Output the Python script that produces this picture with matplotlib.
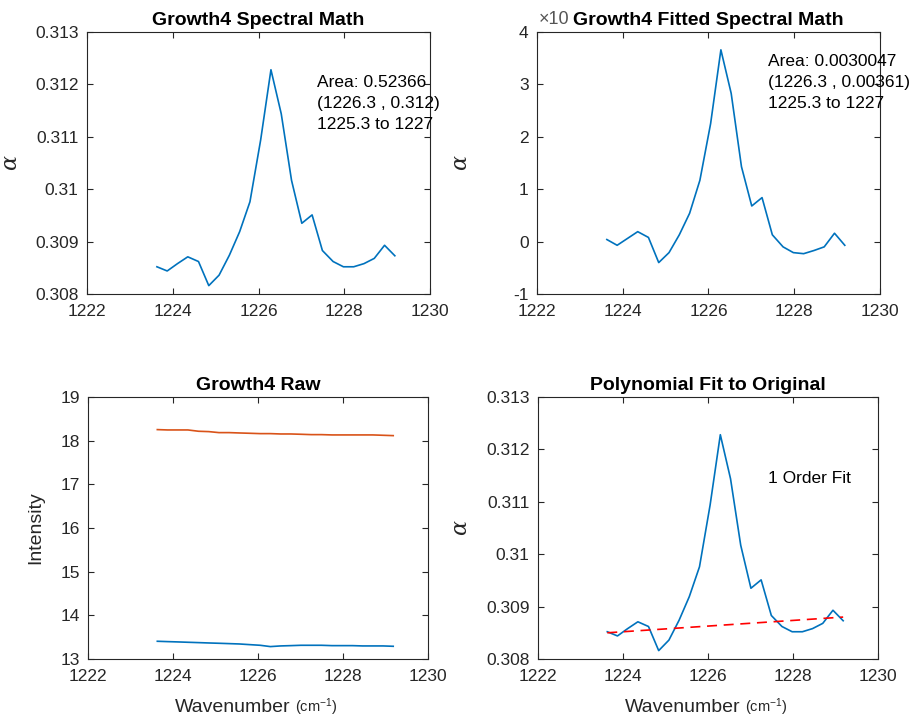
import numpy as np
import matplotlib
matplotlib.use('Agg')
from matplotlib import pyplot as plt

plt.rcParams['font.family'] = ['Liberation Sans', 'DejaVu Sans']
plt.rcParams['mathtext.fontset'] = 'dejavuserif'
plt.rcParams['axes.unicode_minus'] = False

# wavenumber grid (cm^-1)
wn = [1223.63, 1223.87, 1224.11, 1224.35, 1224.60, 1224.84, 1225.08, 1225.32,
      1225.56, 1225.80, 1226.05, 1226.29, 1226.53, 1226.77, 1227.01, 1227.25,
      1227.49, 1227.74, 1227.98, 1228.22, 1228.46, 1228.70, 1228.94, 1229.18]

# absorbance (spectral math)
alpha = [0.30852, 0.30844, 0.30858, 0.30871, 0.30862, 0.30816, 0.30836, 0.30874,
         0.30919, 0.30976, 0.31094, 0.31228, 0.31144, 0.31017, 0.30935, 0.30951,
         0.30883, 0.30862, 0.30852, 0.30852, 0.30858, 0.30868, 0.30893, 0.30873]

# baseline-subtracted (x 1e-3)
fitted = [0.04, -0.07, 0.06, 0.19, 0.08, -0.40, -0.21, 0.13,
          0.54, 1.17, 2.25, 3.66, 2.83, 1.43, 0.68, 0.84,
          0.13, -0.10, -0.21, -0.23, -0.17, -0.10, 0.16, -0.07]

# raw intensities
raw_sample = [13.406, 13.398, 13.391, 13.383, 13.375, 13.367, 13.360, 13.352,
              13.344, 13.329, 13.314, 13.284, 13.299, 13.306, 13.314, 13.314,
              13.314, 13.306, 13.306, 13.306, 13.299, 13.299, 13.299, 13.291]
raw_ref = [18.253, 18.245, 18.245, 18.245, 18.215, 18.207, 18.184, 18.184,
           18.176, 18.169, 18.161, 18.161, 18.153, 18.153, 18.146, 18.138,
           18.138, 18.131, 18.131, 18.131, 18.131, 18.131, 18.123, 18.115]

# 1st order fit line endpoints
fit_x = [1223.63, 1229.18]
fit_y = [0.30850, 0.30880]

blue = '#0072BD'
orange = '#D95319'
axcol = '#262626'

fig = plt.figure(figsize=(9.19, 7.21), dpi=100)
w, h = 0.3732, 0.3634
ax1 = fig.add_axes([0.0947, 0.5922, w, h])
ax2 = fig.add_axes([0.5843, 0.5922, w, h])
ax3 = fig.add_axes([0.0958, 0.0860, 0.37, h])
ax4 = fig.add_axes([0.5854, 0.0860, 0.37, h])

def style(ax):
    ax.set_xlim(1222, 1230)
    ax.set_xticks([1222, 1224, 1226, 1228, 1230])
    ax.tick_params(direction='in', top=True, right=True, length=4, width=0.8,
                   labelsize=12.5, colors=axcol, labelcolor=axcol)
    ax.tick_params(axis='x', pad=7)
    ax.tick_params(axis='y', pad=6)
    for s in ax.spines.values():
        s.set_color(axcol)
        s.set_linewidth(0.8)

alpha_ticks = [0.308, 0.309, 0.31, 0.311, 0.312, 0.313]
alpha_labels = ['0.308', '0.309', '0.31', '0.311', '0.312', '0.313']
tfont = dict(fontsize=14, fontweight='bold')

# top left
ax1.plot(wn, alpha, color=blue, lw=1.2)
style(ax1)
ax1.set_ylim(0.308, 0.313)
ax1.set_yticks(alpha_ticks)
ax1.set_yticklabels(alpha_labels)
ax1.set_title('Growth4 Spectral Math', pad=5, **tfont)
ax1.text(1227.36, 0.311645, 'Area: 0.52366\n(1226.3 , 0.312)\n1225.3 to 1227',
         fontsize=12.5, va='center', ha='left', linespacing=1.5)
ax1.set_ylabel(r'$\alpha$', fontsize=16, color=axcol)
ax1.yaxis.set_label_coords(-0.19, 0.5)

# top right
ax2.plot(wn, fitted, color=blue, lw=1.2)
style(ax2)
ax2.set_ylim(-1, 4)
ax2.set_yticks([-1, 0, 1, 2, 3, 4])
ax2.set_title('Growth4 Fitted Spectral Math', pad=5, **tfont)
ax2.text(0.005, 1.015, '\u00d710', transform=ax2.transAxes, fontsize=13,
         color='#555555', va='bottom', ha='left')
ax2.text(1227.39, 3.03, 'Area: 0.0030047\n(1226.3 , 0.00361)\n1225.3 to 1227',
         fontsize=12.5, va='center', ha='left', linespacing=1.5)
ax2.set_ylabel(r'$\alpha$', fontsize=16, color=axcol)
ax2.yaxis.set_label_coords(-0.19, 0.5)

# bottom left
ax3.plot(wn, raw_sample, color=blue, lw=1.2)
ax3.plot(wn, raw_ref, color=orange, lw=1.2)
style(ax3)
ax3.set_ylim(13, 19)
ax3.set_yticks(np.arange(13, 20))
ax3.set_title('Growth4 Raw', pad=5, **tfont)
ax3.set_ylabel('Intensity', fontsize=14, color=axcol)
ax3.yaxis.set_label_coords(-0.13, 0.5)

# bottom right
ax4.plot(wn, alpha, color=blue, lw=1.2)
ax4.plot(fit_x, fit_y, color='red', lw=1.2, ls=(0, (6, 4)))
style(ax4)
ax4.set_ylim(0.308, 0.313)
ax4.set_yticks(alpha_ticks)
ax4.set_yticklabels(alpha_labels)
ax4.set_title('Polynomial Fit to Original', pad=5, **tfont)
ax4.text(1227.41, 0.311435, '1 Order Fit', fontsize=12.5, va='center', ha='left')
ax4.set_ylabel(r'$\alpha$', fontsize=16, color=axcol)
ax4.yaxis.set_label_coords(-0.195, 0.5)

for ax in [ax3, ax4]:
    ax.text(0.425, -0.185, 'Wavenumber', transform=ax.transAxes, fontsize=14,
            ha='center', va='center', color=axcol)
    ax.text(0.61, -0.185, '(cm$^{\\mathregular{-1}}$)', transform=ax.transAxes,
            fontsize=10.5, ha='left', va='center', color=axcol)

plt.savefig('out.png', dpi=100)
